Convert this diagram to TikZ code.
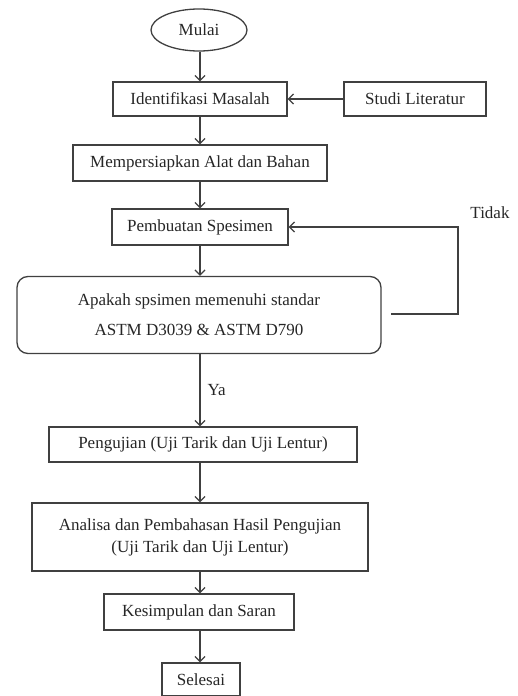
\documentclass[tikz,border=0pt]{standalone}
\usepackage{fontspec}
\setmainfont{Liberation Serif}
\usetikzlibrary{shapes.geometric,arrows.meta}

\begin{document}
\begin{tikzpicture}[x=1pt,y=-1pt,>={Straight Barb[length=5pt,width=10pt]},
  every node/.style={font=\fontsize{17}{20}\selectfont,text=black!85},
  box/.style={draw=black!75,line width=1.3pt,inner sep=0pt,align=center},
  oval/.style={ellipse,draw=black!75,line width=1.3pt,inner sep=0pt,minimum width=96,minimum height=42},
  every edge/.style={draw=black!75,line width=1.3pt}]

\useasboundingbox (0,0) rectangle (517,696);

%main column
\node[oval] (mulai) at (199,30) {Mulai};
\node[box,minimum width=174,minimum height=34] (ident) at (200,99) {Identifikasi Masalah};
\node[box,minimum width=142,minimum height=34] (studi) at (415,99) {Studi Literatur};
\node[box,minimum width=254,minimum height=36] (siap) at (200,163) {Mempersiapkan Alat dan Bahan};
\node[box,minimum width=176,minimum height=36] (buat) at (200,227) {Pembuatan Spesimen};
\node[box,rounded corners=11,minimum width=364,minimum height=77] (cek) at (199,315)
  {Apakah spsimen memenuhi standar\\[10pt] ASTM D3039 \& ASTM D790};
\node[box,minimum width=308,minimum height=35] (uji) at (203,444.5) {Pengujian (Uji Tarik dan Uji Lentur)};
\node[box,minimum width=336,minimum height=68] (analisa) at (200,537)
  {Analisa dan Pembahasan Hasil Pengujian\\[2pt] (Uji Tarik dan Uji Lentur)};
\node[box,minimum width=190,minimum height=36] (simpul) at (199,612) {Kesimpulan dan Saran};
\node[box,minimum width=78,minimum height=33] (selesai) at (201,679.5) {Selesai};

%arrows
\draw (mulai.south -| analisa) edge[->] (ident.north -| analisa);
\draw (studi) edge[->] (ident);
\draw (ident) edge[->] (siap);
\draw (siap) edge[->] (buat);
\draw (buat) edge[->] (cek.north -| buat);
\draw (cek.south -| analisa) edge[->] node[right,inner sep=7pt] {Ya} (uji.north -| analisa);
\draw (uji.south -| analisa) edge[->] (analisa);
\draw (analisa) edge[->] (simpul.north -| analisa);
\draw (simpul.south -| analisa) edge[->] (selesai.north -| analisa);

%Tidak loop
\coordinate (t0) at (391,314);
\coordinate (t1) at (458,314);
\coordinate (t2) at (458,227);
\draw[->,draw=black!75,line width=1.3pt] (t0) -- (t1) -- (t2) -- (buat);
\node (tidak) at (490,213) {Tidak};

\end{tikzpicture}
\end{document}
